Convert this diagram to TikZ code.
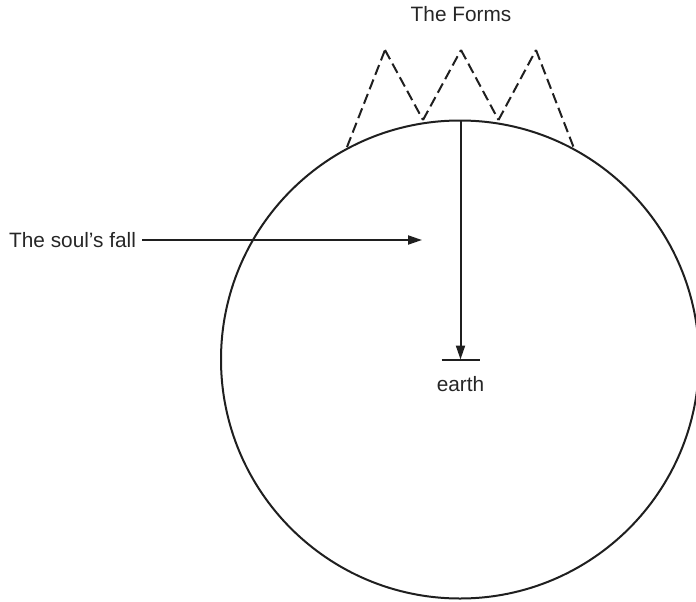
\documentclass[tikz,border=0pt]{standalone}
\usepackage{fontspec}
\setmainfont{Liberation Sans}
\usetikzlibrary{arrows.meta}
\begin{document}
\begin{tikzpicture}[x=1pt,y=-1pt,
  lbl/.style={inner sep=0pt, font=\fontsize{20.8}{25}\selectfont, text=black!85},
  ln/.style={line width=2pt, draw=black!88},
  dashline/.style={line width=2pt, draw=black!88, dash pattern=on 10.5pt off 5pt},
  tip/.style={-{Triangle[length=14pt,width=9pt]}}]
\useasboundingbox (0,0) rectangle (696,602);
% globe
\node[circle, ln, minimum size=478pt, inner sep=0pt] (globe) at (460,359.5) {};
% forms zigzag
\coordinate (z0) at (347,147);
\coordinate (p1) at (385,50);
\coordinate (v1) at (423,120);
\coordinate (p2) at (461,50);
\coordinate (v2) at (498.5,120);
\coordinate (p3) at (536,50);
\coordinate (z1) at (573.5,147);
\draw[dashline] (z0) -- (p1);
\draw[dashline] (p1) -- (v1);
\draw[dashline] (v1) -- (p2);
\draw[dashline] (p2) -- (v2);
\draw[dashline] (v2) -- (p3);
\draw[dashline] (p3) -- (z1);
\node[lbl, anchor=base] (forms) at (461,21.5) {The Forms};
% earth
\coordinate (barL) at (441.5,359.5);
\coordinate (barR) at (479.5,359.5);
\coordinate (barC) at (460.5,359.5);
\coordinate (top) at (460.5,120);
\draw[ln] (barL) -- (barR);
\draw[ln, tip] (top) -- (barC);
\node[lbl, anchor=base] (earth) at (460.5,391) {earth};
% soul's fall
\node[lbl, anchor=base west] (soul) at (9,247) {The soul’s fall};
\coordinate (soulend) at (422,240);
\path (soul.east |- soulend) ++(6,0) coordinate (soulstart);
\draw[ln, tip] (soulstart) -- (soulend);
\end{tikzpicture}
\end{document}
